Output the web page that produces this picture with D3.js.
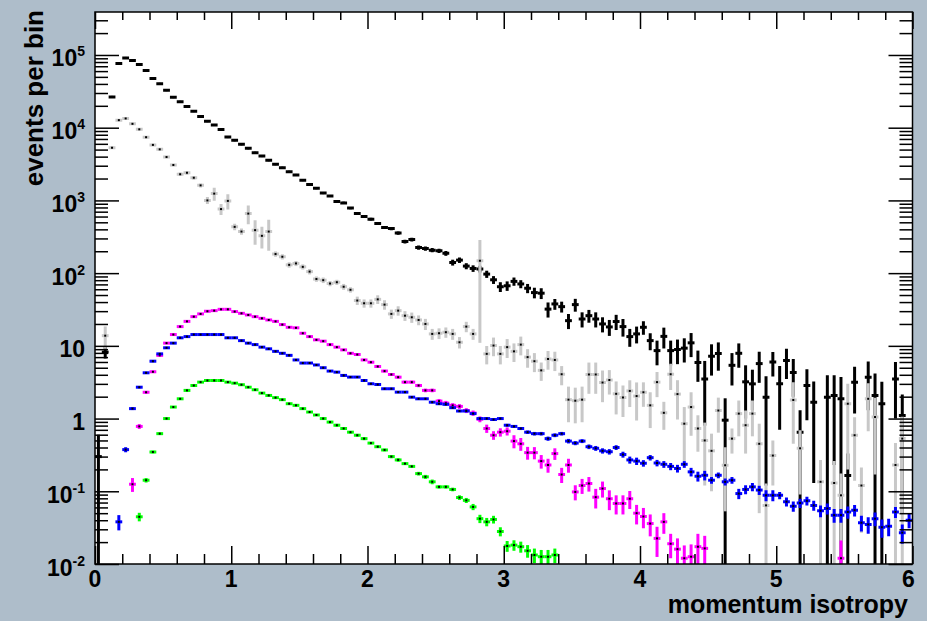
<!DOCTYPE html>
<html>
<head>
<meta charset="utf-8">
<script src="https://cdn.jsdelivr.net/npm/d3@7"></script>
<style>
  html, body { margin: 0; padding: 0; background: #aebdca; }
  svg { display: block; }
  text { font-family: "Liberation Sans", Arial, Helvetica, sans-serif; font-weight: bold; fill: #000; }
</style>
</head>
<body>
<svg id="chart" width="927" height="621"></svg>
<script>
// Histogram binning: 120 bins of width 0.05 from 0 to 6
const xMin = 0;
const binWidth = 0.05;

// Bin contents (events per bin), one entry per bin; 0 = empty bin
const blackCounts = [
  0.30, 8.2, 26500, 76200, 91000, 83800, 73800, 61100, 47400, 40100,
  32800, 26300, 22700, 19600, 16900, 14300, 12300, 10900, 9480, 7430,
  6700, 5900, 5200, 4530, 4070, 3560, 3140, 2820, 2480, 2240,
  1900, 1660, 1470, 1260, 1150, 964, 925, 785, 659, 603,
  552, 481, 424, 410, 355, 272, 290, 225, 218, 207,
  203, 187, 140, 151, 125, 116, 114, 97, 81, 65,
  67, 77, 71, 62, 54, 53, 32, 37.7, 34.6, 22.2,
  36.9, 23.4, 26, 23.4, 20, 18.2, 21.6, 18.4, 13.4, 14.6,
  18, 11.8, 8.6, 13.5, 8.6, 8.9, 9.3, 11, 5.9, 3.5,
  7.2, 7.85, 0.95, 5.4, 7.9, 3.2, 3.0, 5.7, 1.97, 6.0,
  3.0, 6.3, 4.3, 0.65, 2.85, 1.68, 0, 1.97, 2.08, 1.87,
  0.165, 3.17, 0, 3.7, 2.08, 1.6, 0, 3.5, 1.1, 0
];
const blackErrors = [
  0.30, 1.5, 160, 280, 300, 290, 270, 250, 220, 200,
  180, 160, 150, 140, 130, 120, 110, 100, 95, 85,
  80, 75, 70, 65, 62, 58, 55, 52, 49, 46,
  44, 41, 38, 36, 34, 31, 30, 28, 26, 25,
  24, 22, 21, 20, 19, 16, 17, 15, 15, 14,
  14, 14, 13, 13, 12, 12, 12, 11, 10, 10,
  10, 10, 9, 9, 9, 9, 7.5, 6.4, 5.9, 5.2,
  7.4, 5.5, 5.2, 5.5, 4.7, 4.5, 5.1, 5.0, 3.7, 3.8,
  3.8, 3.1, 3.2, 4.3, 3.2, 3.3, 3.4, 4.0, 2.7, 2.7,
  3.3, 3.3, 0.95, 2.55, 2.9, 2.2, 1.7, 2.6, 1.85, 2.2,
  2.3, 2.8, 2.3, 0.65, 1.9, 1.55, 0, 1.97, 1.85, 1.87,
  0.165, 2.0, 0, 2.4, 2.08, 1.6, 0, 2.5, 1.05, 0
];

const greyCounts = [
  0, 13.8, 5300, 12700, 13400, 11300, 9500, 7400, 5800, 5040,
  3950, 3070, 2290, 2400, 2050, 1610, 1000, 1240, 760, 985,
  433, 373, 659, 390, 326, 373, 183, 168, 130, 136,
  122, 105, 83, 80, 72, 75, 65, 59, 42, 38.5,
  38.5, 43.6, 36.9, 27.5, 30.5, 26, 24.7, 22.7, 20, 14.6,
  14.9, 15.4, 14.6, 11.2, 18.4, 14.6, 148, 7.76, 10.1, 7.76,
  9.6, 8.4, 10.4, 7.0, 6.15, 4.6, 6.6, 6.4, 4.07, 1.82,
  1.76, 1.82, 4.04, 4.04, 3.13, 3.39, 2.19, 1.95, 2.4, 2.04,
  2.3, 1.52, 3.17, 1.2, 4.07, 2.17, 0.85, 1.44, 0.73, 0.50,
  0.36, 1.29, 0.228, 0.53, 1.17, 0.81, 1.17, 0.45, 0.064, 0.31,
  0, 0, 1.8, 0.39, 0, 0, 0.135, 0, 0.13, 0.088,
  1.6, 0.59, 0.12, 1.87, 1.05, 0, 0, 0.23, 0.53, 0
];
const greyErrors = [
  0, 4.7, 200, 380, 400, 350, 300, 250, 210, 190,
  160, 130, 130, 140, 120, 100, 110, 250, 130, 235,
  43, 37, 190, 145, 108, 170, 15, 14, 11, 11,
  10, 9, 7, 7, 6, 6, 6, 5, 5.5, 5,
  5, 6, 5.5, 4, 4.5, 4, 4, 3.5, 3.5, 2.5,
  2.5, 2.5, 2.5, 2.0, 3.0, 2.5, 137, 2.2, 2.9, 2.2,
  2.8, 2.4, 3.0, 2.0, 1.8, 1.3, 1.9, 1.9, 1.2, 0.93,
  0.9, 0.93, 1.85, 1.85, 1.45, 1.25, 1.05, 0.9, 0.96, 1.1,
  0.85, 0.78, 1.2, 0.5, 1.6, 1.2, 0.59, 0.86, 0.38, 0.38,
  0.26, 0.65, 0.175, 0.2, 0.6, 0.48, 0.6, 0.4, 0.064, 0.19,
  0, 0, 1.35, 0.3, 0, 0, 0.135, 0, 0.13, 0.088,
  1.4, 0.45, 0.093, 1.2, 0.88, 0, 0, 0.23, 0.53, 0
];

const magentaCounts = [
  0, 0, 0, 0, 0, 0.125, 0.78, 2.3, 4.4, 7.4,
  10.9, 14.3, 18.4, 21.7, 25.2, 27.5, 29.9, 30.5, 31.8, 31.8,
  29.6, 28, 26.6, 25.2, 23.9, 22.7, 21.7, 19.6, 18, 17.7,
  14.9, 13.4, 12.1, 11.6, 10.4, 9.6, 8.8, 7.9, 7.6, 6.4,
  5.96, 5.2, 4.5, 4.04, 3.71, 3.17, 3.17, 2.85, 2.44, 2.44,
  1.74, 1.63, 1.52, 1.47, 1.29, 1.19, 0.98, 0.73, 0.59, 0.65,
  0.67, 0.49, 0.45, 0.34, 0.34, 0.26, 0.23, 0.33, 0.17, 0.23,
  0.098, 0.12, 0.128, 0.083, 0.109, 0.079, 0.068, 0.068, 0.079, 0.05,
  0.045, 0.036, 0.0225, 0.038, 0.019, 0.016, 0.012, 0.0126, 0.0173, 0.0164,
  0, 0, 0, 0, 0, 0, 0, 0, 0, 0,
  0, 0, 0, 0, 0, 0, 0, 0, 0, 0.012,
  0, 0, 0, 0, 0, 0, 0, 0, 0, 0
];
const magentaErrors = [
  0, 0, 0, 0, 0, 0.027, 0.06, 0.1, 0.15, 0.2,
  0.25, 0.3, 0.35, 0.38, 0.4, 0.42, 0.44, 0.45, 0.46, 0.46,
  0.45, 0.44, 0.43, 0.42, 0.41, 0.4, 0.39, 0.37, 0.36, 0.35,
  0.32, 0.3, 0.29, 0.28, 0.27, 0.26, 0.25, 0.24, 0.23, 0.22,
  0.21, 0.2, 0.19, 0.18, 0.17, 0.16, 0.16, 0.15, 0.14, 0.14,
  0.12, 0.12, 0.11, 0.11, 0.1, 0.1, 0.09, 0.095, 0.08, 0.085,
  0.085, 0.1, 0.09, 0.068, 0.065, 0.055, 0.05, 0.06, 0.04, 0.05,
  0.023, 0.028, 0.029, 0.025, 0.027, 0.024, 0.02, 0.02, 0.022, 0.015,
  0.014, 0.012, 0.01, 0.012, 0.007, 0.0065, 0.006, 0.006, 0.0087, 0.008,
  0, 0, 0, 0, 0, 0, 0, 0, 0, 0,
  0, 0, 0, 0, 0, 0, 0, 0, 0, 0.009,
  0, 0, 0, 0, 0, 0, 0, 0, 0, 0
];

const blueCounts = [
  0, 0, 0, 0.038, 0.374, 1.37, 2.7, 4.26, 6.15, 7.76,
  9.4, 10.9, 12.9, 13.4, 14.3, 14.3, 14.3, 14.3, 14.3, 12.9,
  12.9, 11.8, 10.9, 10.4, 9.6, 9.1, 8.4, 7.9, 7.4, 6.4,
  5.8, 5.8, 5.46, 5.0, 4.5, 4.35, 3.92, 3.72, 3.72, 3.34,
  3.01, 2.94, 2.57, 2.57, 2.31, 2.31, 1.97, 1.87, 1.87, 1.68,
  1.6, 1.57, 1.41, 1.27, 1.27, 1.17, 1.0, 1.0, 0.97, 1.0,
  0.81, 0.78, 0.73, 0.65, 0.62, 0.62, 0.53, 0.59, 0.62, 0.49,
  0.46, 0.49, 0.41, 0.39, 0.36, 0.35, 0.40, 0.32, 0.27, 0.26,
  0.243, 0.29, 0.245, 0.235, 0.22, 0.206, 0.235, 0.185, 0.161, 0.166,
  0.142, 0.166, 0.135, 0.142, 0.093, 0.106, 0.115, 0.104, 0.088, 0.088,
  0.088, 0.072, 0.0625, 0.069, 0.074, 0.064, 0.054, 0.058, 0.047, 0.047,
  0.052, 0.055, 0.037, 0.035, 0.042, 0.032, 0.033, 0.052, 0.027, 0.040
];
const blueErrors = [
  0, 0, 0, 0.009, 0.03, 0.06, 0.09, 0.11, 0.13, 0.14,
  0.15, 0.16, 0.17, 0.17, 0.17, 0.17, 0.17, 0.17, 0.17, 0.16,
  0.16, 0.15, 0.15, 0.14, 0.14, 0.13, 0.13, 0.12, 0.12, 0.11,
  0.11, 0.11, 0.1, 0.1, 0.09, 0.09, 0.085, 0.08, 0.08, 0.075,
  0.07, 0.07, 0.065, 0.065, 0.06, 0.06, 0.055, 0.055, 0.055, 0.05,
  0.05, 0.05, 0.045, 0.045, 0.045, 0.04, 0.04, 0.04, 0.04, 0.04,
  0.035, 0.035, 0.035, 0.035, 0.035, 0.035, 0.035, 0.035, 0.035, 0.035,
  0.03, 0.03, 0.03, 0.03, 0.03, 0.03, 0.03, 0.03, 0.03, 0.03,
  0.025, 0.025, 0.025, 0.025, 0.025, 0.025, 0.025, 0.025, 0.025, 0.025,
  0.015, 0.015, 0.015, 0.015, 0.015, 0.015, 0.015, 0.015, 0.015, 0.015,
  0.01, 0.01, 0.01, 0.01, 0.01, 0.01, 0.01, 0.01, 0.01, 0.01,
  0.01, 0.01, 0.009, 0.009, 0.009, 0.009, 0.009, 0.009, 0.008, 0.009
];

const greenCounts = [
  0, 0, 0, 0, 0, 0, 0.0446, 0.142, 0.347, 0.62,
  1.0, 1.44, 1.87, 2.44, 2.85, 3.17, 3.34, 3.34, 3.34, 3.17,
  3.07, 2.92, 2.7, 2.49, 2.24, 2.08, 1.94, 1.82, 1.6, 1.52,
  1.37, 1.23, 1.12, 1.0, 0.895, 0.81, 0.73, 0.65, 0.59, 0.53,
  0.46, 0.41, 0.37, 0.30, 0.27, 0.24, 0.22, 0.175, 0.158, 0.135,
  0.115, 0.115, 0.106, 0.082, 0.075, 0.061, 0.042, 0.038, 0.041, 0.028,
  0.0177, 0.0182, 0.0173, 0.0152, 0.0133, 0.0126, 0.0126, 0.0133, 0, 0,
  0, 0, 0, 0, 0, 0, 0, 0, 0, 0,
  0, 0, 0, 0, 0, 0, 0, 0, 0, 0,
  0, 0, 0, 0, 0, 0, 0, 0, 0, 0,
  0, 0, 0, 0, 0, 0, 0, 0, 0, 0,
  0, 0, 0, 0, 0, 0, 0, 0, 0, 0
];
const greenErrors = [
  0, 0, 0, 0, 0, 0, 0.006, 0.01, 0.015, 0.02,
  0.025, 0.03, 0.035, 0.04, 0.04, 0.04, 0.04, 0.04, 0.04, 0.04,
  0.04, 0.04, 0.04, 0.04, 0.04, 0.04, 0.04, 0.04, 0.04, 0.04,
  0.035, 0.035, 0.035, 0.035, 0.035, 0.035, 0.025, 0.025, 0.025, 0.025,
  0.015, 0.015, 0.015, 0.015, 0.015, 0.01, 0.01, 0.01, 0.01, 0.01,
  0.006, 0.006, 0.006, 0.006, 0.006, 0.006, 0.0055, 0.005, 0.005, 0.004,
  0.003, 0.003, 0.003, 0.003, 0.003, 0.003, 0.003, 0.003, 0, 0,
  0, 0, 0, 0, 0, 0, 0, 0, 0, 0,
  0, 0, 0, 0, 0, 0, 0, 0, 0, 0,
  0, 0, 0, 0, 0, 0, 0, 0, 0, 0,
  0, 0, 0, 0, 0, 0, 0, 0, 0, 0,
  0, 0, 0, 0, 0, 0, 0, 0, 0, 0
];

// Axis labels
const xTickValues = [0, 1, 2, 3, 4, 5, 6];
const xTickLabels = ["0", "1", "2", "3", "4", "5", "6"];
const yTickValues = [1e-2, 1e-1, 1, 10, 1e2, 1e3, 1e4, 1e5];
const yTickBase   = ["10", "10", "1", "10", "10", "10", "10", "10"];
const yTickExp    = ["-2", "-1", "", "", "2", "3", "4", "5"];
const xTitle = "momentum isotropy";
const yTitle = "events per bin";

// Drawing order: later series paint over earlier ones
const series = [
  { counts: blackCounts,   errors: blackErrors,   color: "#000000" },
  { counts: greyCounts,    errors: greyErrors,    color: "#c8c8c8" },
  { counts: magentaCounts, errors: magentaErrors, color: "#ff00ff" },
  { counts: blueCounts,    errors: blueErrors,    color: "#0000ff" },
  { counts: greenCounts,   errors: greenErrors,   color: "#00ff00" }
];

const frame = { left: 95, right: 912.5, top: 12, bottom: 564 };
const yMin = 0.01, yMax = 3.9e5;

const svg = d3.select("#chart");
const x = d3.scaleLinear().domain([0, 6]).range([frame.left, frame.right]);
const y = d3.scaleLog().domain([yMin, yMax]).range([frame.bottom, frame.top]);

// white pad
svg.append("rect")
  .attr("x", frame.left).attr("y", frame.top)
  .attr("width", frame.right - frame.left).attr("height", frame.bottom - frame.top)
  .attr("fill", "#ffffff");

svg.append("defs").append("clipPath").attr("id", "plotClip")
  .append("rect")
  .attr("x", frame.left).attr("y", frame.top)
  .attr("width", frame.right - frame.left).attr("height", frame.bottom - frame.top);

const plot = svg.append("g").attr("clip-path", "url(#plotClip)");

// Error-bar points for each histogram
series.forEach(s => {
  const pts = s.counts
    .map((v, i) => ({ v, e: s.errors[i], c: xMin + (i + 0.5) * binWidth }))
    .filter(d => d.v > 0);

  const g = plot.append("g")
    .attr("stroke", s.color)
    .attr("stroke-width", 3)
    .attr("fill", "none");

  g.selectAll("line.h").data(pts).join("line").attr("class", "h")
    .attr("x1", d => x(d.c - binWidth / 2))
    .attr("x2", d => x(d.c + binWidth / 2))
    .attr("y1", d => y(d.v))
    .attr("y2", d => y(d.v));

  g.selectAll("line.v").data(pts.filter(d => d.e > 0)).join("line").attr("class", "v")
    .attr("x1", d => x(d.c))
    .attr("x2", d => x(d.c))
    .attr("y1", d => y(Math.min(d.v + d.e, yMax)))
    .attr("y2", d => (d.v - d.e > yMin ? y(d.v - d.e) : frame.bottom + 2));

  plot.append("g").selectAll("rect").data(pts).join("rect")
    .attr("x", d => x(d.c) - 1)
    .attr("y", d => y(d.v) - 1)
    .attr("width", 2).attr("height", 2)
    .attr("fill", "#000");
});

// Tick positions
const yMinor = [];
for (let d = -2; d <= 5; d++) {
  for (let k = 2; k <= 9; k++) {
    const v = k * Math.pow(10, d);
    if (v < yMax) yMinor.push(v);
  }
}
const xMinor = d3.range(0, 6.0001, 0.2).filter(v => Math.abs(v - Math.round(v)) > 1e-6);

function styleAxis(g) {
  g.select(".domain").remove();
  g.selectAll(".tick line").attr("stroke", "#000").attr("stroke-width", 1.5);
  g.selectAll(".tick text").remove();
}

// left
svg.append("g").attr("transform", `translate(${frame.left},0)`)
  .call(d3.axisRight(y).tickValues(yTickValues).tickSize(24).tickFormat(() => "")).call(styleAxis);
svg.append("g").attr("transform", `translate(${frame.left},0)`)
  .call(d3.axisRight(y).tickValues(yMinor).tickSize(13).tickFormat(() => "")).call(styleAxis);
// right
svg.append("g").attr("transform", `translate(${frame.right},0)`)
  .call(d3.axisLeft(y).tickValues(yTickValues).tickSize(24).tickFormat(() => "")).call(styleAxis);
svg.append("g").attr("transform", `translate(${frame.right},0)`)
  .call(d3.axisLeft(y).tickValues(yMinor).tickSize(13).tickFormat(() => "")).call(styleAxis);
// bottom
svg.append("g").attr("transform", `translate(0,${frame.bottom})`)
  .call(d3.axisTop(x).tickValues(xTickValues).tickSize(18).tickFormat(() => "")).call(styleAxis);
svg.append("g").attr("transform", `translate(0,${frame.bottom})`)
  .call(d3.axisTop(x).tickValues(xMinor).tickSize(10).tickFormat(() => "")).call(styleAxis);
// top
svg.append("g").attr("transform", `translate(0,${frame.top})`)
  .call(d3.axisBottom(x).tickValues(xTickValues).tickSize(17).tickFormat(() => "")).call(styleAxis);
svg.append("g").attr("transform", `translate(0,${frame.top})`)
  .call(d3.axisBottom(x).tickValues(xMinor).tickSize(8).tickFormat(() => "")).call(styleAxis);

// frame
svg.append("rect")
  .attr("x", frame.left).attr("y", frame.top)
  .attr("width", frame.right - frame.left).attr("height", frame.bottom - frame.top)
  .attr("fill", "none").attr("stroke", "#000").attr("stroke-width", 1.5);

// y tick labels with exponents
const yl = svg.append("g").selectAll("text").data(yTickValues).join("text")
  .attr("x", 85)
  .attr("y", d => y(d) + 11.5)
  .attr("text-anchor", "end")
  .attr("font-size", 23);
yl.append("tspan").text((d, i) => yTickBase[i]);
yl.filter((d, i) => yTickExp[i] !== "")
  .append("tspan")
  .attr("font-size", 14)
  .attr("dy", -10)
  .text(d => yTickExp[yTickValues.indexOf(d)]);

// x tick labels (the last one is pulled in to stay inside the frame edge)
svg.append("g").selectAll("text").data(xTickValues).join("text")
  .attr("x", (d, i) => x(d) - (i === xTickValues.length - 1 ? 4 : 0))
  .attr("y", 587)
  .attr("text-anchor", "middle")
  .attr("font-size", 23)
  .text((d, i) => xTickLabels[i]);

// axis titles
svg.append("text")
  .attr("x", 908).attr("y", 613)
  .attr("text-anchor", "end")
  .attr("font-size", 25)
  .text(xTitle);

svg.append("text")
  .attr("transform", "translate(43,10) rotate(-90)")
  .attr("text-anchor", "end")
  .attr("font-size", 26)
  .text(yTitle);
</script>
</body>
</html>
